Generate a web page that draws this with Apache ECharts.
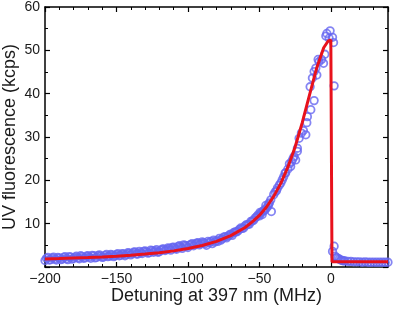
<!DOCTYPE html>
<html>
<head>
<meta charset="utf-8">
<script src="https://cdn.jsdelivr.net/npm/echarts@6/dist/echarts.min.js"></script>
<style>
html,body{margin:0;padding:0;background:#fff;}
#chart{width:396px;height:309px;}
</style>
</head>
<body>
<div id="chart"></div>
<script>
// Measured fluorescence (blue circles)
const dataDetuning = [
  -200,-198,-196,-194,-192,-190,-188,-186,-184,-182,-180,-178,-176,-174,-172,-170,-168,-166,-164,-162,
  -160,-158,-156,-154,-152,-150,-148,-146,-144,-142,-140,-138,-136,-134,-132,-130,-128,-126,-124,-122,
  -120,-118,-116,-114,-112,-110,-108,-106,-104,-102,-100,-98,-96,-94,-92,-90,
  -199,-197,-195,-193,-191,-189,-187,-185,-183,-181,-179,-177,-175,-173,-171,-169,-167,-165,-163,-161,
  -159,-157,-155,-153,-151,-149,-147,-145,-143,-141,-139,-137,-135,-133,-131,-129,-127,-125,-123,-121,
  -119,-117,-115,-113,-111,-109,-107,-105,-103,-101,-99,-97,-95,-93,-91,-89,
  -88,-86,-84,-82,-80,-78,-76,-74,-72,-70,-68,-66,-64,-62,-60,-58,-56,-54,-52,-50,
  -87,-85,-83,-81,-79,-77,-75,-73,-71,-69,-67,-65,-63,-61,-59,-57,-55,-53,-51,-49,-47,-45,-43,
  -49.5,-47.5,-45.5,-43.5,-39,-33,-29,-27.5,
  -48,-46,-44,-42,-41.6,-40,-38,-37.4,-36,-35,-34,-32,-31.6,-30,-28.1,-26.5,-25.7,-24.6,-23.4,-23.4,
  -22.2,-20.6,-19.2,-17.5,-16.8,-16.4,-14.5,-14,-12.9,-11.7,-11.7,-10.5,-9.8,-8.9,-8.2,-6.5,-5.1,-4.2,
  -3.5,-2.8,-1.2,-0.5,1.2,1.9,2.3,
  1.2,2.3,3,4,5,6,7,8,9,10,12,14,16,18,20,22,24,26,28,30,32,34,36,38,40
];
const dataCounts = [
  1.5,2.2,1.7,2.3,1.6,2.1,1.8,2.4,1.7,2.3,2.0,2.5,1.9,2.4,2.1,2.6,2.0,2.6,2.2,2.8,
  2.2,2.7,2.4,2.9,2.4,2.9,2.6,3.1,2.6,3.3,2.8,3.4,3.0,3.6,3.1,3.7,3.2,3.9,3.4,4.0,
  3.5,4.1,3.8,4.4,3.9,4.6,4.1,4.9,4.3,5.0,4.5,5.2,4.9,5.5,5.1,5.8,
  2.0,1.6,2.1,1.8,2.2,1.7,2.2,1.9,2.4,1.8,2.3,2.1,2.6,2.0,2.5,2.3,2.7,2.1,2.6,2.5,
  2.3,2.9,2.5,2.8,2.6,3.1,2.7,3.0,2.9,3.2,3.1,3.5,3.0,3.3,3.6,3.5,3.3,3.8,3.7,3.4,
  3.9,4.2,4.0,4.3,4.5,4.3,4.7,4.6,5.1,4.8,5.0,5.4,5.3,5.6,5.4,5.6,
  5.4,5.9,5.9,6.2,6.1,6.6,6.5,7.0,7.1,7.6,7.9,8.1,8.7,8.9,9.5,9.8,10.5,10.8,11.6,11.8,
  5.0,5.6,5.4,5.8,5.9,6.2,6.9,6.7,7.4,7.3,8.1,8.3,9.0,9.0,9.8,9.9,10.6,11.3,12.0,12.4,13.0,13.6,14.8,
  12.6,12.9,14.2,14.5,17.3,20.8,23.8,24.3,
  12.1,13.2,14.0,15.5,12.8,16.7,17.6,18.2,18.9,19.4,20.1,21.7,21.7,22.6,23.2,25.0,25.5,24.7,26.7,27.4,
  29.7,30.9,31.5,30.5,33.3,34.7,41.6,36.3,43.6,38.4,45.1,45.9,44.3,47.9,47.4,47.9,47.0,49.1,
  53.3,53.9,52.8,54.5,53.0,51.8,41.8,
  3.6,4.8,2.5,2.2,2.0,1.8,1.6,1.5,1.4,1.4,1.3,1.3,1.2,1.2,1.2,1.1,1.2,1.1,1.1,1.1,1.1,1.1,1.1,1.1,1.1
];
// Fit curve (red line)
const fitDetuning = [-200,-190,-180,-170,-160,-150,-140,-130,-120,-110,-100,-90,-80,-70,-60,-55,-50,-45,-40,-35,-30,-25,-20,-15,-10,-5,-2,0,0.8,0.8,40];
const fitCounts   = [1.85,1.94,2.06,2.17,2.32,2.50,2.71,2.98,3.30,3.72,4.25,4.96,5.91,7.23,9.12,10.4,11.9,13.85,16.3,19.3,23.1,27.7,33.3,39.6,45.8,50.6,52.1,52.4,52.3,1.2,1.2];
// Axis ticks
const xTicks = [-200,-150,-100,-50,0];
const yTicks = [10,20,30,40,50,60];

const scatterData = dataDetuning.map((x,i)=>[x,dataCounts[i]]);
const fitData = fitDetuning.map((x,i)=>[x,fitCounts[i]]);

const FONT = 'Liberation Sans, Arial, sans-serif';
const TXT = '#1a1a1a';
function axisCommon(show){
  return {
    axisLine:{show:true,onZero:false,lineStyle:{color:'#000',width:1.5}},
    axisTick:{show:true,inside:true,length:5,lineStyle:{color:'#000',width:1.2}},
    splitLine:{show:false},
    axisLabel:{show:show}
  };
}
const chart = echarts.init(document.getElementById('chart'));
chart.setOption({
  animation:false,
  backgroundColor:'#fff',
  grid:{left:45,right:8,top:7,bottom:42,containLabel:false,outerBoundsMode:'none'},
  xAxis:[
    Object.assign(axisCommon(true),{
      type:'value',min:-200,max:40,interval:50,position:'bottom',
      minorTick:{show:true,splitNumber:5,length:3,lineStyle:{color:'#000',width:1}},
      axisLabel:{show:true,margin:5,fontSize:14,color:TXT,fontFamily:FONT,
        formatter:v=>xTicks.includes(v)?String(v).replace('-','\u2212'):''},
      name:'Detuning at 397 nm (MHz)',nameLocation:'middle',nameGap:20,nameMoveOverlap:false,
      nameTextStyle:{fontSize:18,color:TXT,fontFamily:FONT}
    }),
    Object.assign(axisCommon(false),{
      type:'value',min:-200,max:40,interval:50,position:'top',
      minorTick:{show:true,splitNumber:5,length:3,lineStyle:{color:'#000',width:1}}
    })
  ],
  yAxis:[
    Object.assign(axisCommon(true),{
      type:'value',min:0,max:60,interval:10,position:'left',
      minorTick:{show:true,splitNumber:2,length:3,lineStyle:{color:'#000',width:1}},
      axisLabel:{show:true,margin:5,fontSize:14,color:TXT,fontFamily:FONT,
        formatter:v=>yTicks.includes(v)?String(v):''},
      name:'UV fluorescence (kcps)',nameLocation:'middle',nameGap:26,nameMoveOverlap:false,
      nameTextStyle:{fontSize:18,color:TXT,fontFamily:FONT}
    }),
    Object.assign(axisCommon(false),{
      type:'value',min:0,max:60,interval:10,position:'right',
      minorTick:{show:true,splitNumber:2,length:3,lineStyle:{color:'#000',width:1}}
    })
  ],
  series:[
    {type:'scatter',data:scatterData,symbol:'circle',symbolSize:7.5,
     itemStyle:{color:'rgba(0,0,0,0)',borderColor:'#6666f0',borderWidth:1.8},z:2,clip:false},
    {type:'line',data:fitData,showSymbol:false,symbol:'none',
     lineStyle:{color:'#e8121c',width:3},z:3,clip:true}
  ]
});
</script>
</body>
</html>
